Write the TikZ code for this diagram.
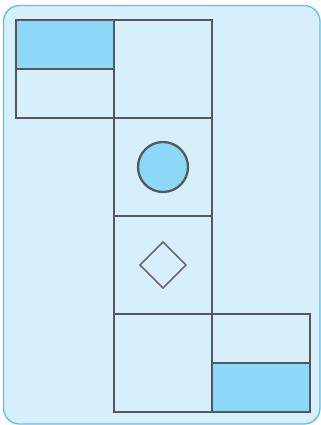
\documentclass[tikz,border=0pt]{standalone}
\usepackage{tikz}
\usetikzlibrary{positioning,shapes.geometric}
\definecolor{panelblue}{HTML}{D7EEFB}
\definecolor{panelrim}{HTML}{4FC6F0}
\definecolor{cellblue}{HTML}{8BD8F7}
\definecolor{cellgray}{HTML}{55585A}
\definecolor{markgray}{HTML}{6A6A6A}
\tikzset{
    cell/.style={rectangle,draw=cellgray,line width=1.7pt,minimum size=73.5pt,inner sep=0pt,outer sep=0pt},
    halfcell/.style={cell,minimum height=36.75pt},
    filled/.style={fill=cellblue},
    disc/.style={circle,draw=cellgray,fill=cellblue,line width=1.7pt,minimum size=37.5pt,inner sep=0pt},
    rhomb/.style={diamond,draw=markgray,line width=1.2pt,minimum width=35pt,minimum height=35pt,inner sep=0pt},
}
\begin{document}
\begin{tikzpicture}[x=0.75pt,y=-0.75pt,node distance=0pt]
    \useasboundingbox (0,0) rectangle (321,425);
    % panel
    \draw[panelrim,fill=panelblue,line width=1pt,rounded corners=12pt] (3.5,5.5) rectangle (320,424);

    % middle column
    \node[cell] (sqA) at (163,69) {};
    \node[cell,below=of sqA] (sqB) {};
    \node[cell,below=of sqB] (sqC) {};
    \node[cell,below=of sqC] (sqD) {};

    % side flaps
    \node[halfcell,filled,anchor=north east] (tlA) at (sqA.north west) {};
    \node[halfcell,below=of tlA] (tlB) {};
    \node[halfcell,anchor=north west] (brA) at (sqD.north east) {};
    \node[halfcell,filled,below=of brA] (brB) {};

    % marks
    \node[disc] (dot) at (sqB) {};
    \node[rhomb] (gem) at (sqC) {};
\end{tikzpicture}
\end{document}
